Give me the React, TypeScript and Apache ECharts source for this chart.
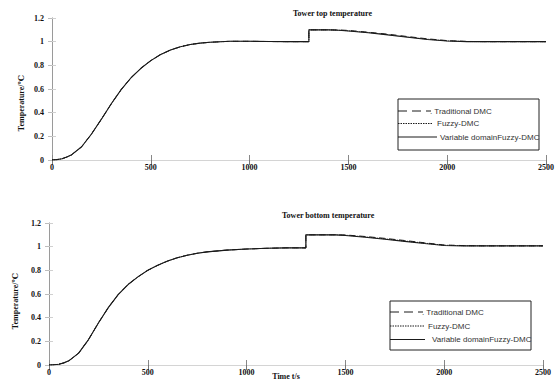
import React, { useEffect, useRef } from "react";
import * as echarts from "echarts";

// Shared time axis (s); step disturbance at 1300 s
const time = [0, 25, 50, 75, 100, 150, 200, 250, 300, 350, 400, 450, 500, 550, 600, 650, 700, 750, 800, 900, 1000, 1100, 1200, 1300, 1300, 1350, 1400, 1450, 1500, 1600, 1700, 1800, 1900, 2000, 2100, 2200, 2300, 2500];

// Tower top temperature
const topTraditional = [0, 0.003, 0.01, 0.025, 0.045, 0.112, 0.22, 0.345, 0.475, 0.595, 0.695, 0.775, 0.84, 0.892, 0.93, 0.957, 0.976, 0.988, 0.995, 1.003, 1.003, 1.001, 1.0, 1.0, 1.1, 1.1, 1.1, 1.099, 1.095, 1.08, 1.063, 1.043, 1.024, 1.009, 1.002, 1.0, 1.0, 1.0];
const topFuzzy = [0, 0.003, 0.01, 0.025, 0.045, 0.112, 0.22, 0.345, 0.475, 0.595, 0.695, 0.775, 0.84, 0.892, 0.93, 0.957, 0.976, 0.988, 0.995, 1.003, 1.003, 1.001, 1.0, 1.0, 1.1, 1.1, 1.1, 1.097, 1.092, 1.078, 1.06, 1.04, 1.021, 1.007, 1.001, 1.0, 1.0, 1.0];
const topVariable = [0, 0.003, 0.01, 0.025, 0.045, 0.112, 0.22, 0.345, 0.475, 0.595, 0.695, 0.775, 0.84, 0.892, 0.93, 0.957, 0.976, 0.988, 0.995, 1.003, 1.003, 1.001, 1.0, 1.0, 1.1, 1.1, 1.1, 1.096, 1.09, 1.075, 1.057, 1.037, 1.018, 1.005, 1.0, 1.0, 1.0, 1.0];

// Tower bottom temperature
const bottomTraditional = [0, 0.002, 0.006, 0.018, 0.035, 0.1, 0.215, 0.355, 0.485, 0.595, 0.68, 0.745, 0.8, 0.842, 0.878, 0.907, 0.928, 0.944, 0.956, 0.971, 0.98, 0.986, 0.99, 0.99, 1.1, 1.1, 1.1, 1.1, 1.099, 1.086, 1.07, 1.052, 1.033, 1.014, 1.009, 1.007, 1.007, 1.007];
const bottomFuzzy = [0, 0.002, 0.006, 0.018, 0.035, 0.1, 0.215, 0.355, 0.485, 0.595, 0.68, 0.745, 0.8, 0.842, 0.878, 0.907, 0.928, 0.944, 0.956, 0.971, 0.98, 0.986, 0.99, 0.99, 1.1, 1.1, 1.1, 1.1, 1.097, 1.083, 1.066, 1.048, 1.03, 1.012, 1.008, 1.007, 1.007, 1.007];
const bottomVariable = [0, 0.002, 0.006, 0.018, 0.035, 0.1, 0.215, 0.355, 0.485, 0.595, 0.68, 0.745, 0.8, 0.842, 0.878, 0.907, 0.928, 0.944, 0.956, 0.971, 0.98, 0.986, 0.99, 0.99, 1.1, 1.1, 1.1, 1.1, 1.095, 1.08, 1.063, 1.045, 1.027, 1.01, 1.007, 1.007, 1.007, 1.007];

const seriesNames = ["Traditional DMC", "Fuzzy-DMC", "Variable domainFuzzy-DMC"];
const chartTitles = ["Tower top temperature", "Tower bottom temperature"];
const yAxisName = "Temperature/\u2103";
const xAxisName = "Time t/s";

const SERIF = '"Liberation Serif", "DejaVu Serif", serif';
const SANS = '"Liberation Sans", Arial, sans-serif';
const LINE = "#1a1a1a";

const lineTypes: any[] = [[6, 4], "dotted", "solid"];
const legendDash: any[] = [[9, 5], [1.5, 1], null];

function pairs(values: number[]) {
  return time.map((t, i) => [t, values[i]]);
}

function legendGraphics(box: { x: number; y: number; w: number; h: number }, rows: number[], lineEnds: number[], textX: number[]) {
  const els: any[] = [
    { type: "rect", shape: { x: box.x, y: box.y, width: box.w, height: box.h }, style: { fill: "#fff", stroke: "#222", lineWidth: 1 }, z: 10 },
  ];
  seriesNames.forEach((name, k) => {
    els.push({
      type: "line",
      shape: { x1: box.x, y1: rows[k], x2: lineEnds[k], y2: rows[k] },
      style: { stroke: LINE, lineWidth: 1, lineDash: legendDash[k] || undefined },
      z: 11,
    });
    els.push({
      type: "text",
      x: textX[k],
      y: rows[k],
      style: { text: (k === 0 ? ". " : "") + name, font: `8px ${SANS}`, fill: "#333", textAlign: "left", textVerticalAlign: "middle" },
      z: 11,
    });
  });
  return els;
}

export default function App() {
  const ref = useRef<HTMLDivElement>(null);
  useEffect(() => {
    if (!ref.current) return;
    const chart = echarts.init(ref.current, null, { renderer: "svg" });

    const grids = [
      { left: 52, top: 18, width: 494, height: 142, outerBoundsMode: "none" },
      { left: 49, top: 223, width: 494, height: 142, outerBoundsMode: "none" },
    ];

    const labelStyle = { fontFamily: SERIF, fontWeight: "bold", fontSize: 8, color: "#111" };

    const xAxes: any[] = [];
    const yAxes: any[] = [];
    [0, 1].forEach((g) => {
      xAxes.push({
        type: "value", gridIndex: g, min: 0, max: 2500, interval: 500, position: "bottom",
        axisLine: { show: true, lineStyle: { color: "#d4d4d4", width: 1 } },
        axisTick: { show: true, inside: true, length: 5, lineStyle: { color: "#888" } },
        axisLabel: { ...labelStyle, margin: 3, formatter: (v: number) => String(v) },
        splitLine: { show: false },
      });
      xAxes.push({
        type: "value", gridIndex: g, min: 0, max: 2500, interval: 500, position: "top",
        axisLine: { show: true, lineStyle: { color: "#d4d4d4", width: 1 } },
        axisTick: { show: true, inside: true, length: 5, lineStyle: { color: "#777" } },
        axisLabel: { show: false },
        splitLine: { show: false },
      });
      yAxes.push({
        type: "value", gridIndex: g, min: 0, max: 1.2, interval: 0.2, position: "left",
        axisLine: { show: true, lineStyle: { color: "#cfcfcf", width: 1 } },
        axisTick: { show: true, inside: true, length: 4, lineStyle: { color: "#d0d0d0" } },
        axisLabel: { ...labelStyle, margin: 8, formatter: (v: number) => String(Math.round(v * 10) / 10) },
        splitLine: { show: false },
      });
      yAxes.push({
        type: "value", gridIndex: g, min: 0, max: 1.2, interval: 0.2, position: "right",
        axisLine: { show: true, lineStyle: { color: "#9a9a9a", width: 1 } },
        axisTick: { show: true, inside: true, length: 4, lineStyle: { color: "#bdbdbd" } },
        axisLabel: { show: false },
        splitLine: { show: false },
      });
    });

    const dataSets = [
      [topTraditional, topFuzzy, topVariable],
      [bottomTraditional, bottomFuzzy, bottomVariable],
    ];

    const series: any[] = [];
    dataSets.forEach((set, g) => {
      set.forEach((vals, k) => {
        series.push({
          type: "line",
          name: seriesNames[k],
          xAxisIndex: g * 2,
          yAxisIndex: g * 2,
          data: pairs(vals),
          symbol: "none",
          showSymbol: false,
          lineStyle: { color: LINE, width: k === 2 ? 1.1 : 1, type: lineTypes[k] },
          itemStyle: { color: LINE },
          z: 3 - k,
        });
      });
    });

    const option: any = {
      animation: false,
      backgroundColor: "#fff",
      grid: grids,
      xAxis: xAxes,
      yAxis: yAxes,
      series,
      graphic: [
        ...legendGraphics({ x: 398, y: 99, w: 141, h: 51 }, [111, 123.5, 137], [431, 433, 437], [430, 437, 440]),
        ...legendGraphics({ x: 390, y: 301, w: 141, h: 49 }, [312, 326, 339.5], [423, 424, 425], [422, 428, 432]),
        { type: "text", x: 293, y: 13, style: { text: chartTitles[0], font: `bold 8px ${SERIF}`, fill: "#111", textAlign: "left", textVerticalAlign: "middle" } },
        { type: "text", x: 282, y: 215, style: { text: chartTitles[1], font: `bold 8px ${SERIF}`, fill: "#111", textAlign: "left", textVerticalAlign: "middle" } },
        { type: "text", x: 21, y: 103, rotation: Math.PI / 2, style: { text: yAxisName, font: `bold 8px ${SERIF}`, fill: "#111", textAlign: "center", textVerticalAlign: "middle" } },
        { type: "text", x: 15, y: 301, rotation: Math.PI / 2, style: { text: yAxisName, font: `bold 8px ${SERIF}`, fill: "#111", textAlign: "center", textVerticalAlign: "middle" } },
        { type: "text", x: 286, y: 376, style: { text: xAxisName, font: `bold 8px ${SERIF}`, fill: "#111", textAlign: "center", textVerticalAlign: "middle" } },
      ],
    };

    chart.setOption(option);
    return () => chart.dispose();
  }, []);

  return (
    <div
      ref={ref}
      style={{ position: "absolute", left: 0, top: 0, width: 560, height: 385, background: "#fff" }}
    />
  );
}
